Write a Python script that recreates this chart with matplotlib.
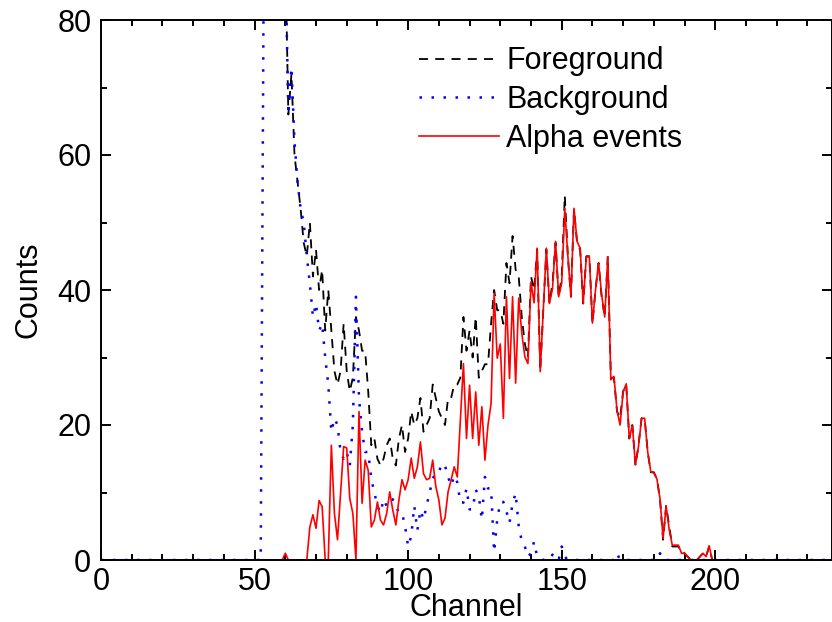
import numpy as np
import matplotlib
matplotlib.use('Agg')
import matplotlib.pyplot as plt
from matplotlib.ticker import MultipleLocator

# channel axis, 0..238
channel = np.arange(0, 239)

# Foreground counts, channels 60..200 (no data below 60)
fg_start = 60
fg_vals = [90, 66, 72, 60, 56, 52, 47, 45, 50, 42,
           46, 40, 43, 34, 40, 34, 28, 26, 28, 35,
           28, 25, 27, 36, 34, 31, 31, 25, 17, 18,
           15, 14, 15, 17, 18, 15, 14, 18, 20, 16,
           18, 22, 20, 21, 24, 19, 20, 21, 26, 24,
           22, 21, 20, 24, 24, 26, 26, 27, 36, 31,
           34, 30, 36, 27, 28, 29, 29, 35, 40, 37,
           37, 35, 44, 41, 48, 43, 42, 36, 32, 30,
           42, 40, 46, 28, 37, 46, 38, 41, 47, 39,
           42, 54, 45, 39, 52, 47, 46, 38, 45, 45,
           35, 40, 44, 39, 36, 45, 27, 27, 22, 21,
           25, 26, 18, 20, 14, 17, 21, 21, 16, 13,
           13, 12, 9, 3, 8, 5, 2, 2, 2, 1,
           1, 0.5, 0, 0, 0, 0.5, 1, 0.5, 2, 0,
           0]

# Background counts, channels 53..200
bg_start = 53
bg_vals = [90, 90, 90, 90, 90, 90, 90,
           90, 66, 73, 62, 56, 52, 50, 45, 41, 36,
           38, 34, 35, 30, 26, 19, 21, 20, 16, 15,
           16, 14, 20, 39, 24, 19, 16, 16, 12, 10,
           8, 7, 9, 8, 8, 9, 8, 7, 7, 5,
           2, 3.5, 8, 4.4, 7.4, 6, 8, 10, 12, 13,
           13, 14.3, 14, 12.3, 11, 12.5, 11.5, 8.5, 8.5, 10.6,
           7.5, 7.5, 10.4, 9.5, 6, 12.3, 10.6, 10.6, 1.2, 6,
           8.6, 8.6, 7.2, 5.5, 8.4, 9.9, 5, 2.8, 2, 0.5,
           1, 2.7, 0.5, 0.4, 0, 0, 0, 0.8, 0, 0,
           2, 0.5, 0, 0, 0, 0, 0, 0, 0, 0,
           0, 0, 0, 0, 0, 0, 0, 0, 1, 0,
           0, 0, 0, 0, 0, 0, 0, 0, 0, 0,
           0, 0, 1, 0, 0, 0, 0, 0, 0, 0,
           0]

# Alpha events, channels 60..200
al_start = 60
al_vals = [1, 0, 0, 0, 0, 0, 0, 0, 4.9, 6.7,
           4.7, 8.8, 7.9, 0, 0, 17, 6.9, 3.0, 10, 16.8,
           16.6, 9.1, 6.9, 0, 22, 8.4, 14.8, 13.3, 4.9, 5.9,
           8.6, 5.9, 5.2, 6.9, 10.1, 7.4, 5.2, 8.9, 11.9, 10.4,
           11.9, 15.1, 12.1, 13.8, 17.5, 12.8, 11.9, 12.1, 14.8, 10.9,
           8.9, 5.2, 6.2, 10.1, 11.9, 13.8, 12.3, 20.7, 29.1, 18.0,
           25.9, 18.0, 24.9, 17.0, 22.7, 14.8, 20.0, 23.2, 39.5, 29.9,
           32.0, 21.0, 39.0, 26.9, 39.0, 26.2, 38.8, 33.6, 30.1, 29.1,
           41.2, 38.1, 46.2, 27.9, 37, 46.2, 38.0, 40.2, 47.2, 39.0,
           41.0, 52.1, 45, 39.0, 52.1, 47.2, 46.2, 38.0, 44.9, 44.9,
           35.1, 40, 44.0, 39.3, 36.0, 44.9, 26.7, 27.2, 22.2, 20.0,
           24.9, 26.1, 18.0, 20.0, 14.1, 16.8, 21.0, 21.0, 16, 13.1,
           12.9, 12, 9.1, 3.2, 8.0, 4.5, 2.2, 2.2, 2.2, 1,
           1, 0.5, 0, 0, 0, 0.5, 1, 0.5, 2.1, 0,
           0]


def full_series(start, vals, before):
    y = np.zeros(len(channel))
    y[:start] = before
    y[start:start + len(vals)] = vals
    return y


foreground = full_series(fg_start, fg_vals, np.nan)
background = full_series(bg_start, bg_vals, 0)
alpha = full_series(al_start, al_vals, 0)

plt.rcParams['font.family'] = ['Liberation Sans', 'DejaVu Sans']
plt.rcParams['font.size'] = 22

fig = plt.figure(figsize=(8.32, 6.22), dpi=100)
ax = fig.add_axes([101 / 832, 1 - 560 / 622, 1 - 101 / 832, 540 / 622])

ax.plot(channel, foreground, color='black', lw=1.3, linestyle=(0, (5, 4)),
        label='Foreground')
ax.plot(channel, background, color='blue', lw=1.8, linestyle=(0, (1, 3.8)),
        label='Background')
ax.plot(channel, alpha, color='red', lw=1.2, label='Alpha events')

ax.set_xlim(0, 238)
ax.set_ylim(0, 80)
ax.xaxis.set_major_locator(MultipleLocator(50))
ax.xaxis.set_minor_locator(MultipleLocator(10))
ax.yaxis.set_major_locator(MultipleLocator(20))
ax.yaxis.set_minor_locator(MultipleLocator(10))
ax.tick_params(which='both', direction='in', top=True, right=True, width=1.4)
ax.tick_params(which='major', length=7, pad=7)
ax.tick_params(axis='x', which='major', pad=5)
ax.tick_params(which='minor', length=4)
for s in ax.spines.values():
    s.set_linewidth(1.4)

ax.set_xlabel('Channel', labelpad=-3)
ax.set_ylabel('Counts', labelpad=10)

ax.legend(loc='upper left', bbox_to_anchor=(0.423, 0.968), frameon=False,
          handlelength=2.6, handletextpad=0.25, labelspacing=0.28,
          borderaxespad=0, borderpad=0.3)

fig.savefig('out.png', dpi=100)
